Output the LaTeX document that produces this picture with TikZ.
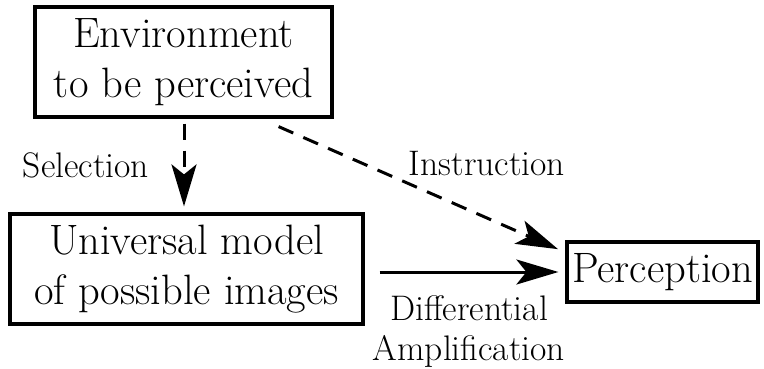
\documentclass[tikz,border=0pt]{standalone}
\usetikzlibrary{arrows.meta}
\begin{document}
\begin{tikzpicture}[x=1pt,y=-1pt,
  box/.style={draw, line width=3.2pt, inner sep=0pt, align=center,
    font=\fontsize{42.5}{50}\selectfont},
  lbl/.style={inner sep=0pt, align=center, font=\fontsize{35.5}{40}\selectfont},
  link/.style={line width=3pt, -{Stealth[length=42pt,width=25pt,inset=10pt]}},
  dashlink/.style={link, dash pattern=on 16pt off 11pt}]
\useasboundingbox (0,0) rectangle (764,368);

\node[box, minimum width=297pt, minimum height=110pt] (env) at (183.5,62)
  {Environment\\to be perceived};
\node[box, minimum width=353pt, minimum height=110pt] (univ) at (186.5,269)
  {Universal model\\of possible images};
\node[box, minimum width=191pt, minimum height=60pt] (perc) at (662.5,272)
  {Perception};

% ends of the slanted dashed connector
\coordinate (instrA) at ([xshift=-55pt,yshift=-8pt]env.south east);
\coordinate (instrB) at ([yshift=-12pt]perc.north west);

\draw[dashlink, shorten <=5pt, shorten >=6pt]
  (env.south -| 184,0) -- (univ.north -| 184,0);
\draw[dashlink, shorten >=8pt] (instrA) -- (instrB);
\draw[link, shorten <=15pt, shorten >=7pt] (univ.east |- perc.west) -- (perc.west);

\node[lbl] (sel) at (86,165) {Selection};
\node[lbl] (ins) at (487,164) {Instruction};
\node[lbl] (dif) at (469,331) {Differential\\Amplification};
\end{tikzpicture}
\end{document}
